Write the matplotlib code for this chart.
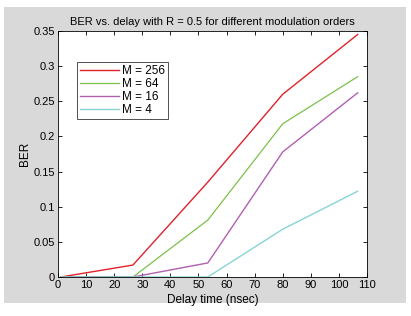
import matplotlib
matplotlib.use("Agg")
import matplotlib.pyplot as plt
from matplotlib.patches import Rectangle

delay = [1, 26.67, 53.33, 80, 106.67]
ber_256 = [0.0, 0.017, 0.135, 0.26, 0.345]
ber_64 = [0.0, 0.0, 0.081, 0.218, 0.285]
ber_16 = [0.0, 0.0, 0.02, 0.178, 0.262]
ber_4 = [0.0, 0.0, 0.0, 0.068, 0.122]
labels = ["M = 256", "M = 64", "M = 16", "M = 4"]
xticks = list(range(0, 111, 10))
yticks = [0, 0.05, 0.1, 0.15, 0.2, 0.25, 0.3, 0.35]

plt.rcParams['font.family'] = ['Liberation Sans', 'DejaVu Sans']
fig = plt.figure(figsize=(4.11, 3.16), dpi=100)
fig.patch.set_facecolor('white')
fig.patches.append(Rectangle((4/411, 1-303/316), 402/411, 296/316,
                             transform=fig.transFigure, facecolor='#d9d9d9',
                             edgecolor='none', zorder=-10))
ax = fig.add_axes([58/411, 1-277/316, 309/411, 246/316])
ax.set_facecolor('white')

colors = ['#e0222a', '#7cc04c', '#b060b0', '#88d4d4']
lws = [1.0, 0.9, 1.0, 1.0]
for y, c, lab, lw in zip([ber_256, ber_64, ber_16, ber_4], colors, labels, lws):
    ax.plot(delay, y, color=c, lw=lw, label=lab)
ax.set_xlim(0, 110)
ax.set_ylim(0, 0.35)
ax.set_xticks(xticks)
ax.set_xticklabels([str(t) for t in xticks])
ax.set_yticks(yticks)
ax.set_yticklabels(['0', '0.05', '0.1', '0.15', '0.2', '0.25', '0.3', '0.35'])
ax.tick_params(direction='in', length=3, width=0.6, labelsize=8, top=True, right=True, pad=2)
for s in ax.spines.values():
    s.set_linewidth(0.6)
ax.set_title("BER vs. delay with R = 0.5 for different modulation orders", fontsize=8, pad=4)
ax.set_xlabel("Delay time (nsec)", fontsize=8.5, labelpad=3)
ax.set_ylabel("BER", fontsize=8.5, labelpad=2)
leg = ax.legend(loc='upper left', bbox_to_anchor=(0.061, 0.874), borderaxespad=0,
                fontsize=8.5, frameon=True, fancybox=False, handlelength=3.3,
                handletextpad=0.3, labelspacing=0.08, borderpad=0.25)
leg.get_frame().set_edgecolor('black')
leg.get_frame().set_linewidth(0.6)
fig.savefig("out.png", dpi=100)
